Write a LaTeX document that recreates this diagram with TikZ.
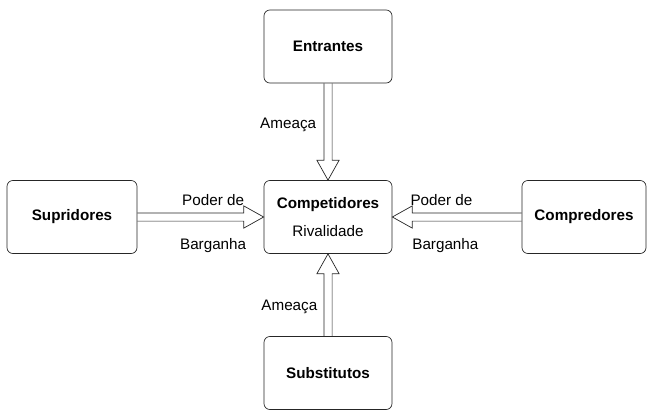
\documentclass[tikz,border=0pt]{standalone}
\usepackage{fontspec}
\setmainfont{Liberation Sans}
\usetikzlibrary{calc,positioning}

% seta larga aberta: #1 origem, #2 ponta, #3 direcao
\newcommand{\forca}[3]{%
  \draw[seta] ($(#1)+(#3+90:3.5pt)$)
    -- ($(#2)+(#3+180:17pt)+(#3+90:3.5pt)$)
    -- ($(#2)+(#3+180:17pt)+(#3+90:9.5pt)$)
    -- (#2)
    -- ($(#2)+(#3+180:17pt)+(#3-90:9.5pt)$)
    -- ($(#2)+(#3+180:17pt)+(#3-90:3.5pt)$)
    -- ($(#1)+(#3-90:3.5pt)$);}

\begin{document}
\begin{tikzpicture}[x=0.03cm, y=-0.03cm,
                   every node/.style={font=\fontsize{13}{15}\selectfont},
                   caixa/.style={draw=black!85, rounded corners=5pt, line width=0.6pt,
                                 minimum width=3.84cm, minimum height=2.19cm,
                                 align=center, font=\fontsize{13}{15}\selectfont\bfseries},
                   seta/.style={draw=black!85, line width=0.6pt},
                   rotulo/.style={inner sep=0pt}]
  \useasboundingbox (0,0) rectangle (647,410);

  % as cinco forcas
  \node[caixa] (comp) at (328,217) {Competidores\\[9.5pt]{\mdseries Rivalidade}};
  \node[caixa] (entr) at (328,46.5) {Entrantes};
  \node[caixa] (subs) at (328,373) {Substitutos};
  \node[caixa, minimum width=3.9cm] (supr) at (72,217) {Supridores};
  \node[caixa, minimum width=3.72cm] (compr) at (584,217) {Compredores};

  % setas
  \forca{entr.south}{comp.north}{-90}
  \forca{subs.north}{comp.south}{90}
  \forca{supr.east}{comp.west}{0}
  \forca{compr.west}{comp.east}{180}

  % rotulos
  \path (entr.south) -- (comp.north)
    node[rotulo, pos=0.43, xshift=-34pt] {Ameaça};
  \path (subs.north) -- (comp.south)
    node[rotulo, pos=0.36, xshift=-33pt] {Ameaça};
  \path (supr.east) -- (comp.west)
    node[rotulo, pos=0.6, yshift=14.5pt] {Poder de}
    node[rotulo, pos=0.6, yshift=-24pt] {Barganha};
  \path (compr.west) -- (comp.east)
    node[rotulo, pos=0.62, yshift=14.5pt] {Poder de}
    node[rotulo, pos=0.59, yshift=-24pt] {Barganha};
\end{tikzpicture}
\end{document}
